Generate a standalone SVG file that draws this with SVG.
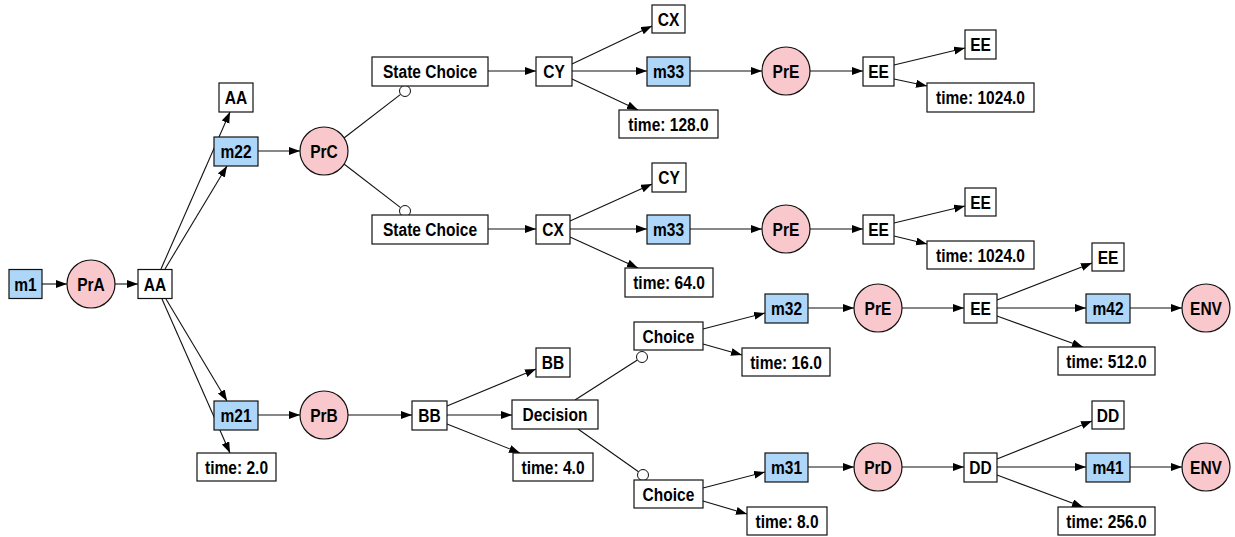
<svg xmlns="http://www.w3.org/2000/svg" width="1235" height="537" viewBox="0 0 1235 537">
  <defs>
    <marker id="arr" markerUnits="userSpaceOnUse" markerWidth="12" markerHeight="9" refX="11" refY="4" orient="auto">
      <path d="M0,0 L11,4 L0,8 z" fill="#000"/>
    </marker>
    <style>
      .st, .msg { stroke: #111; stroke-width: 1.2; }
      .st { fill: #ffffff; }
      .msg { fill: #add6f8; }
      circle.proc { fill: #f9c8cc; stroke: #111; stroke-width: 1.2; }
      circle.dot { fill: #ffffff; stroke: #111; stroke-width: 1; }
      text { font-family: "Liberation Sans", Arial, sans-serif; font-weight: bold; font-size: 18.5px; text-anchor: middle; fill: #000; }
      #edges line { stroke: #111; stroke-width: 1.1; }
      #edges line.a { marker-end: url(#arr); }
    </style>
  </defs>
  <rect x="0" y="0" width="1235" height="537" fill="#ffffff"/>

  <!-- connectors -->
  <g id="edges">
    <line class="a" x1="42" y1="284" x2="67" y2="284"/>
    <line class="a" x1="115" y1="284" x2="138" y2="284"/>
    <line class="a" x1="161" y1="269" x2="230" y2="112"/>
    <line class="a" x1="165" y1="269" x2="227" y2="166"/>
    <line class="a" x1="166" y1="299" x2="227" y2="401"/>
    <line class="a" x1="162" y1="299" x2="230" y2="453"/>
    <line class="a" x1="258" y1="151" x2="300" y2="151"/>
    <line class="a" x1="258" y1="415" x2="300" y2="415"/>
    <line x1="344" y1="138" x2="400.6" y2="94.4"/>
    <line x1="344" y1="164" x2="400.6" y2="207.6"/>
    <line class="a" x1="348" y1="415" x2="412" y2="415"/>
    <line class="a" x1="488" y1="71" x2="536" y2="71"/>
    <line class="a" x1="488" y1="229" x2="536" y2="229"/>
    <line class="a" x1="447" y1="406" x2="536" y2="369"/>
    <line class="a" x1="447" y1="415" x2="512" y2="415"/>
    <line class="a" x1="447" y1="424" x2="520" y2="453"/>
    <line x1="575" y1="400" x2="637.4" y2="360"/>
    <line x1="578" y1="429" x2="638.5" y2="471.8"/>
    <line class="a" x1="572" y1="64" x2="652" y2="26"/>
    <line class="a" x1="572" y1="71" x2="647" y2="71"/>
    <line class="a" x1="572" y1="79" x2="638" y2="110"/>
    <line class="a" x1="570" y1="221" x2="652" y2="184"/>
    <line class="a" x1="570" y1="229" x2="647" y2="229"/>
    <line class="a" x1="570" y1="237" x2="638" y2="268"/>
    <line class="a" x1="690" y1="71" x2="762" y2="71"/>
    <line class="a" x1="690" y1="229" x2="762" y2="229"/>
    <line class="a" x1="810" y1="71" x2="863" y2="71"/>
    <line class="a" x1="810" y1="229" x2="863" y2="229"/>
    <line class="a" x1="894" y1="65" x2="965" y2="48"/>
    <line class="a" x1="894" y1="79" x2="927" y2="86"/>
    <line class="a" x1="894" y1="223" x2="965" y2="206"/>
    <line class="a" x1="894" y1="236" x2="927" y2="244"/>
    <line class="a" x1="703" y1="329" x2="765" y2="313"/>
    <line class="a" x1="703" y1="344" x2="742" y2="355"/>
    <line class="a" x1="703" y1="488" x2="765" y2="472"/>
    <line class="a" x1="703" y1="501" x2="747" y2="514"/>
    <line class="a" x1="808" y1="308" x2="854" y2="308"/>
    <line class="a" x1="808" y1="467" x2="854" y2="467"/>
    <line class="a" x1="902" y1="308" x2="964" y2="308"/>
    <line class="a" x1="902" y1="467" x2="964" y2="467"/>
    <line class="a" x1="997" y1="300" x2="1092" y2="263"/>
    <line class="a" x1="997" y1="308" x2="1086" y2="308"/>
    <line class="a" x1="997" y1="316" x2="1083" y2="347"/>
    <line class="a" x1="997" y1="459" x2="1092" y2="421"/>
    <line class="a" x1="997" y1="467" x2="1086" y2="467"/>
    <line class="a" x1="997" y1="475" x2="1083" y2="507"/>
    <line class="a" x1="1130" y1="308" x2="1182" y2="308"/>
    <line class="a" x1="1130" y1="467" x2="1182" y2="467"/>
  </g>

  <!-- choice markers at the ends of the undirected links -->
  <g id="markers">
    <circle class="dot" cx="405" cy="91" r="5.5"/>
    <circle class="dot" cx="405" cy="211" r="5.5"/>
    <circle class="dot" cx="642" cy="357" r="5.5"/>
    <circle class="dot" cx="643" cy="475" r="5.5"/>
  </g>

  <!-- nodes; labels are horizontally condensed with a matrix transform -->
  <g id="m1"><rect class="msg" x="9" y="269.5" width="33" height="29"/><text transform="matrix(0.84 0 0 1 25.5 290.5)">m1</text></g>
  <g id="PrA"><circle class="proc" cx="91" cy="284" r="24"/><text transform="matrix(0.84 0 0 1 91 290.5)">PrA</text></g>
  <g id="AA"><rect class="st" x="138" y="269.5" width="34" height="29"/><text transform="matrix(0.84 0 0 1 155 290.5)">AA</text></g>

  <g id="AA_top"><rect class="st" x="219" y="83" width="34" height="29"/><text transform="matrix(0.84 0 0 1 236 104)">AA</text></g>
  <g id="m22"><rect class="msg" x="214" y="137" width="44" height="29"/><text transform="matrix(0.84 0 0 1 236 158)">m22</text></g>
  <g id="m21"><rect class="msg" x="214" y="401" width="44" height="29"/><text transform="matrix(0.84 0 0 1 236 422)">m21</text></g>
  <g id="time_2"><rect class="st" x="197" y="453" width="79" height="28"/><text transform="matrix(0.84 0 0 1 236.5 473.5)">time: 2.0</text></g>

  <g id="PrC"><circle class="proc" cx="324" cy="151" r="24"/><text transform="matrix(0.84 0 0 1 324 157.5)">PrC</text></g>
  <g id="PrB"><circle class="proc" cx="324" cy="415" r="24"/><text transform="matrix(0.84 0 0 1 324 421.5)">PrB</text></g>

  <g id="StateChoice_1"><rect class="st" x="372" y="57" width="116" height="29"/><text transform="matrix(0.84 0 0 1 430 78)">State Choice</text></g>
  <g id="StateChoice_2"><rect class="st" x="372" y="215" width="116" height="29"/><text transform="matrix(0.84 0 0 1 430 236)">State Choice</text></g>
  <g id="BB"><rect class="st" x="412" y="401" width="35" height="29"/><text transform="matrix(0.84 0 0 1 429.5 422)">BB</text></g>

  <g id="CY_1"><rect class="st" x="536" y="57" width="36" height="29"/><text transform="matrix(0.84 0 0 1 554 78)">CY</text></g>
  <g id="CX_2"><rect class="st" x="536" y="215" width="34" height="29"/><text transform="matrix(0.84 0 0 1 553 236)">CX</text></g>
  <g id="BB_out"><rect class="st" x="536" y="348" width="34" height="29"/><text transform="matrix(0.84 0 0 1 553 369)">BB</text></g>
  <g id="Decision"><rect class="st" x="512" y="400" width="86" height="29"/><text transform="matrix(0.84 0 0 1 555 421)">Decision</text></g>
  <g id="time_4"><rect class="st" x="513" y="453" width="80" height="28"/><text transform="matrix(0.84 0 0 1 553 473.5)">time: 4.0</text></g>

  <g id="CX_out"><rect class="st" x="652" y="5" width="33" height="28"/><text transform="matrix(0.84 0 0 1 668.5 25.5)">CX</text></g>
  <g id="m33_1"><rect class="msg" x="647" y="57" width="43" height="29"/><text transform="matrix(0.84 0 0 1 668.5 78)">m33</text></g>
  <g id="time_128"><rect class="st" x="619" y="110" width="99" height="28"/><text transform="matrix(0.84 0 0 1 668.5 130.5)">time: 128.0</text></g>
  <g id="CY_out"><rect class="st" x="652" y="163" width="34" height="29"/><text transform="matrix(0.84 0 0 1 669 184)">CY</text></g>
  <g id="m33_2"><rect class="msg" x="647" y="215" width="43" height="29"/><text transform="matrix(0.84 0 0 1 668.5 236)">m33</text></g>
  <g id="time_64"><rect class="st" x="625" y="268" width="88" height="29"/><text transform="matrix(0.84 0 0 1 669 289)">time: 64.0</text></g>
  <g id="Choice_1"><rect class="st" x="634" y="322" width="69" height="28"/><text transform="matrix(0.84 0 0 1 668.5 342.5)">Choice</text></g>
  <g id="Choice_2"><rect class="st" x="634" y="480" width="69" height="28"/><text transform="matrix(0.84 0 0 1 668.5 500.5)">Choice</text></g>

  <g id="PrE_1"><circle class="proc" cx="786" cy="71" r="24"/><text transform="matrix(0.84 0 0 1 786 77.5)">PrE</text></g>
  <g id="PrE_2"><circle class="proc" cx="786" cy="229" r="24"/><text transform="matrix(0.84 0 0 1 786 235.5)">PrE</text></g>
  <g id="m32"><rect class="msg" x="765" y="294" width="43" height="29"/><text transform="matrix(0.84 0 0 1 786.5 315)">m32</text></g>
  <g id="time_16"><rect class="st" x="742" y="348" width="88" height="28"/><text transform="matrix(0.84 0 0 1 786 368.5)">time: 16.0</text></g>
  <g id="m31"><rect class="msg" x="765" y="453" width="43" height="29"/><text transform="matrix(0.84 0 0 1 786.5 474)">m31</text></g>
  <g id="time_8"><rect class="st" x="747" y="507" width="80" height="28"/><text transform="matrix(0.84 0 0 1 787 527.5)">time: 8.0</text></g>

  <g id="EE_1"><rect class="st" x="863" y="57" width="31" height="29"/><text transform="matrix(0.84 0 0 1 878.5 78)">EE</text></g>
  <g id="EE_2"><rect class="st" x="863" y="215" width="31" height="29"/><text transform="matrix(0.84 0 0 1 878.5 236)">EE</text></g>
  <g id="PrE_3"><circle class="proc" cx="878" cy="308" r="24"/><text transform="matrix(0.84 0 0 1 878 314.5)">PrE</text></g>
  <g id="PrD"><circle class="proc" cx="878" cy="467" r="24"/><text transform="matrix(0.84 0 0 1 878 473.5)">PrD</text></g>

  <g id="EE_out1"><rect class="st" x="965" y="30" width="31" height="29"/><text transform="matrix(0.84 0 0 1 980.5 51)">EE</text></g>
  <g id="time_1024a"><rect class="st" x="927" y="83" width="107" height="29"/><text transform="matrix(0.84 0 0 1 980.5 104)">time: 1024.0</text></g>
  <g id="EE_out2"><rect class="st" x="965" y="188" width="31" height="28"/><text transform="matrix(0.84 0 0 1 980.5 208.5)">EE</text></g>
  <g id="time_1024b"><rect class="st" x="927" y="241" width="107" height="28"/><text transform="matrix(0.84 0 0 1 980.5 261.5)">time: 1024.0</text></g>
  <g id="EE_3"><rect class="st" x="964" y="294" width="33" height="29"/><text transform="matrix(0.84 0 0 1 980.5 315)">EE</text></g>
  <g id="DD"><rect class="st" x="964" y="453" width="33" height="29"/><text transform="matrix(0.84 0 0 1 980.5 474)">DD</text></g>

  <g id="EE_out3"><rect class="st" x="1092" y="243" width="32" height="28"/><text transform="matrix(0.84 0 0 1 1108 263.5)">EE</text></g>
  <g id="m42"><rect class="msg" x="1086" y="294" width="44" height="29"/><text transform="matrix(0.84 0 0 1 1108 315)">m42</text></g>
  <g id="time_512"><rect class="st" x="1058" y="347" width="97" height="28"/><text transform="matrix(0.84 0 0 1 1106.5 367.5)">time: 512.0</text></g>
  <g id="DD_out"><rect class="st" x="1092" y="401" width="32" height="28"/><text transform="matrix(0.84 0 0 1 1108 421.5)">DD</text></g>
  <g id="m41"><rect class="msg" x="1086" y="453" width="44" height="29"/><text transform="matrix(0.84 0 0 1 1108 474)">m41</text></g>
  <g id="time_256"><rect class="st" x="1058" y="507" width="97" height="28"/><text transform="matrix(0.84 0 0 1 1106.5 527.5)">time: 256.0</text></g>

  <g id="ENV_1"><circle class="proc" cx="1206" cy="308" r="24"/><text transform="matrix(0.84 0 0 1 1206 314.5)">ENV</text></g>
  <g id="ENV_2"><circle class="proc" cx="1206" cy="467" r="24"/><text transform="matrix(0.84 0 0 1 1206 473.5)">ENV</text></g>
</svg>
